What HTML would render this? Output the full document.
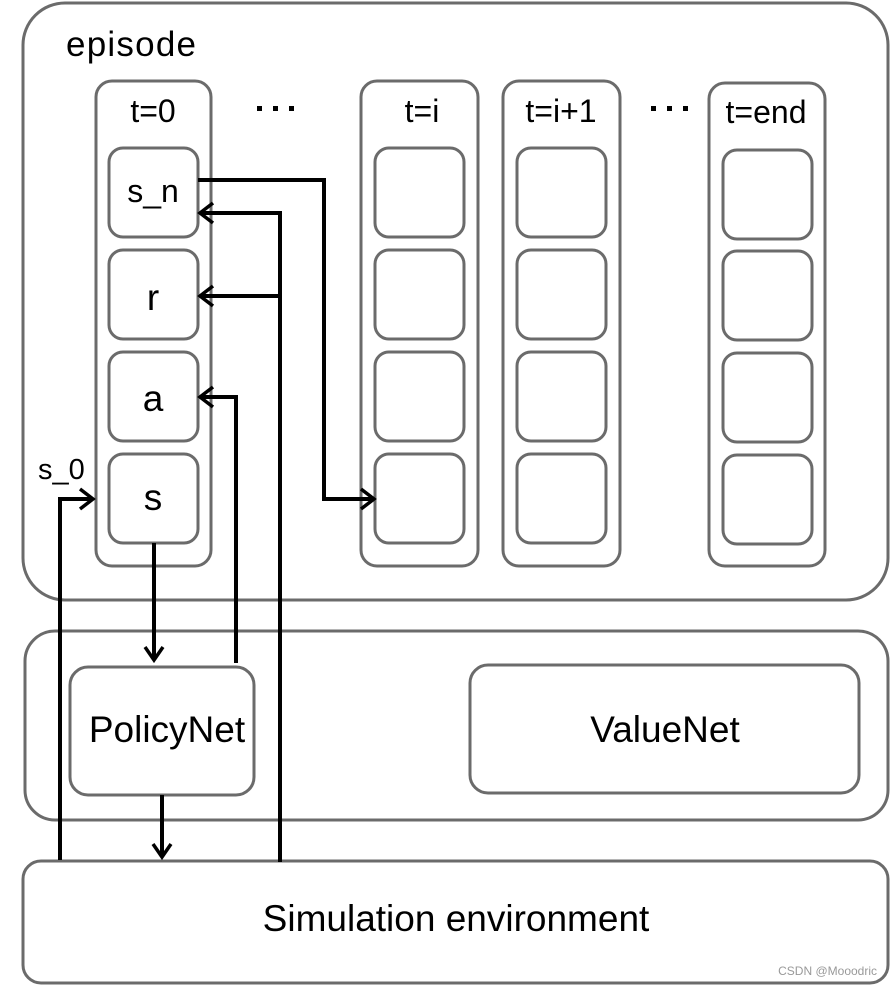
<!DOCTYPE html>
<html><head><meta charset="utf-8"><style>
html,body{margin:0;padding:0;background:#fff;}
svg{display:block;}
text{font-family:"Liberation Sans",Arial,sans-serif;fill:#000;}
</style></head><body>
<svg width="892" height="985" viewBox="0 0 892 985" xmlns="http://www.w3.org/2000/svg">
<g fill="none" stroke="#6b6b6b" stroke-width="3">
<rect x="23" y="3" width="865" height="597" rx="42"/>
<rect x="96" y="81" width="115" height="485" rx="16"/>
<rect x="109" y="148" width="89" height="89" rx="14"/>
<rect x="109" y="250" width="89" height="89" rx="14"/>
<rect x="109" y="352" width="89" height="89" rx="14"/>
<rect x="109" y="454" width="89" height="89" rx="14"/>
<rect x="361" y="81" width="117" height="485" rx="16"/>
<rect x="375" y="148" width="89" height="89" rx="14"/>
<rect x="375" y="250" width="89" height="89" rx="14"/>
<rect x="375" y="352" width="89" height="89" rx="14"/>
<rect x="375" y="454" width="89" height="89" rx="14"/>
<rect x="503" y="81" width="117" height="485" rx="16"/>
<rect x="517" y="148" width="89" height="89" rx="14"/>
<rect x="517" y="250" width="89" height="89" rx="14"/>
<rect x="517" y="352" width="89" height="89" rx="14"/>
<rect x="517" y="454" width="89" height="89" rx="14"/>
<rect x="709" y="83" width="116" height="483" rx="16"/>
<rect x="723" y="150" width="89" height="89" rx="14"/>
<rect x="723" y="251" width="89" height="89" rx="14"/>
<rect x="723" y="353" width="89" height="89" rx="14"/>
<rect x="723" y="455" width="89" height="89" rx="14"/>
<rect x="25" y="631" width="863" height="189" rx="30"/>
<rect x="70" y="667" width="184" height="128" rx="18"/>
<rect x="470" y="665" width="389" height="128" rx="18"/>
<rect x="23" y="861" width="865" height="122" rx="18"/>
</g>
<g fill="none" stroke="#000" stroke-width="4">
<polyline points="198,180 324,180 324,499 374,499"/>
<polyline points="361,489 374,499 361,509" stroke-width="3.5"/>
<polyline points="280,862 280,213 200,213"/>
<polyline points="213,203 200,213 213,223" stroke-width="3.5"/>
<line x1="280" y1="296" x2="200" y2="296"/>
<polyline points="213,286 200,296 213,306" stroke-width="3.5"/>
<polyline points="236,663 236,397 200,397"/>
<polyline points="213,387 200,397 213,407" stroke-width="3.5"/>
<polyline points="60,860 60,499 93,499"/>
<polyline points="80,489 93,499 80,509" stroke-width="3.5"/>
<line x1="154" y1="543" x2="154" y2="660"/>
<polyline points="145,647 154,660 163,647" stroke-width="3.5"/>
<line x1="162" y1="795" x2="162" y2="857"/>
<polyline points="153,844 162,857 171,844" stroke-width="3.5"/>
</g>
<g fill="#000">
<rect x="257" y="106" width="5" height="5"/><rect x="273" y="106" width="5" height="5"/><rect x="289" y="106" width="5" height="5"/>
<rect x="651" y="106" width="5" height="5"/><rect x="667" y="106" width="5" height="5"/><rect x="683" y="106" width="5" height="5"/>
</g>
<text x="66" y="56" font-size="35" textLength="130">episode</text>
<text x="153" y="122" font-size="32" text-anchor="middle">t=0</text>
<text x="422" y="122" font-size="32" text-anchor="middle">t=i</text>
<text x="561" y="122" font-size="32" text-anchor="middle">t=i+1</text>
<text x="766" y="123" font-size="32" text-anchor="middle">t=end</text>
<text x="153" y="202" font-size="32" text-anchor="middle">s_n</text>
<text x="153" y="310" font-size="37" text-anchor="middle">r</text>
<text x="153" y="411" font-size="37" text-anchor="middle">a</text>
<text x="153" y="510" font-size="37" text-anchor="middle">s</text>
<text x="38" y="479" font-size="29">s_0</text>
<text x="167" y="742" font-size="37" text-anchor="middle">PolicyNet</text>
<text x="665" y="742" font-size="37" text-anchor="middle">ValueNet</text>
<text x="456" y="931" font-size="37" text-anchor="middle">Simulation environment</text>
<text x="877" y="975" font-size="12" text-anchor="end" style="fill:#999">CSDN @Mooodric</text>
</svg>
</body></html>
